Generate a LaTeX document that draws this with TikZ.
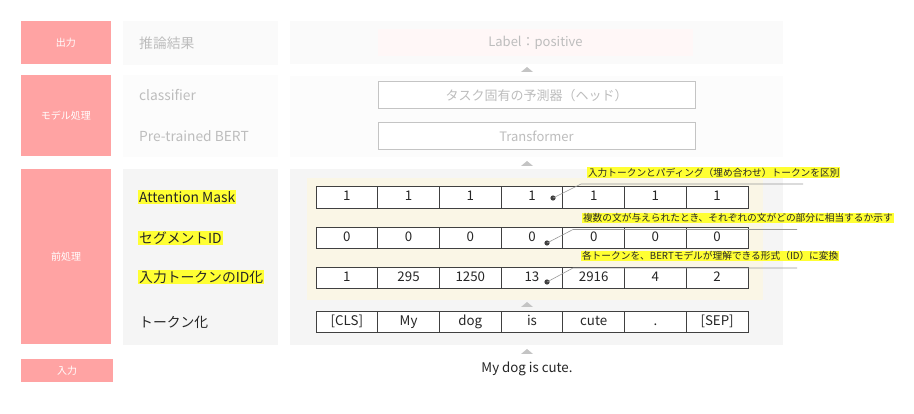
\documentclass[tikz,border=0pt]{standalone}
\usepackage{fontspec}
\setmainfont{Noto Sans CJK JP}
\usepackage{tikz}
\usetikzlibrary{positioning, calc}
\usepackage{xcolor}

\definecolor{tagpink}{HTML}{FFA3A3}
\definecolor{panelgrey}{HTML}{F5F5F5}
\definecolor{panelfaint}{HTML}{FAFAFA}
\definecolor{panelbeige}{HTML}{FAF6E6}
\definecolor{markyellow}{HTML}{FFFF33}
\definecolor{fadetext}{HTML}{BDBDBD}
\definecolor{fadeline}{HTML}{C4C4C4}
\definecolor{celline}{HTML}{404040}

\tikzset{
  tag/.style={fill=tagpink, text=white, font=\fontsize{10}{12}\selectfont},
  stagename/.style={anchor=west, inner sep=1pt, font=\fontsize{13.8}{15}\selectfont},
  marked/.style={stagename, fill=markyellow, text=black!85},
  faded/.style={stagename, text=fadetext},
  fadebox/.style={draw=fadeline, line width=1pt, fill=white, text=fadetext,
    minimum width=317pt, minimum height=27pt, font=\fontsize{13}{15}\selectfont},
  cell/.style={draw=celline, line width=0.9pt, fill=white, minimum width=61.71pt,
    minimum height=21.5pt, inner sep=0pt, text height=9.5pt, text depth=2.5pt,
    text=black!85, font=\fontsize{13.3}{15}\selectfont},
  note/.style={anchor=west, fill=markyellow, inner sep=0.8pt, text=black!85,
    font=\fontsize{9.7}{11}\selectfont},
  callout/.style={draw=gray!80, line width=0.6pt},
  marker/.style={fill=fadeline}
}

\begin{document}
\begin{tikzpicture}[x=1pt, y=-1pt]
  \useasboundingbox[fill=white] (0,0) rectangle (914,414);

  % Stage tags on the left
  \node[tag, minimum width=90pt, minimum height=43pt] (out-tag) at (66,42.5) {出力};
  \node[tag, minimum width=90pt, minimum height=81pt] (model-tag) at (66,115.5) {モデル処理};
  \node[tag, minimum width=90pt, minimum height=175pt] (pre-tag) at (66,256.5) {前処理};
  \node[tag, minimum width=92pt, minimum height=23pt] (in-tag) at (67,370.5) {入力};

  % Background panels
  \fill[panelfaint] (123,21) rectangle (278,65);
  \fill[panelfaint!60!white] (123,75) rectangle (278,157);
  \fill[panelgrey] (123,169) rectangle (278,345);
  \fill[panelfaint] (290,21) rectangle (783,64);
  \fill[panelfaint!60!white] (290,76) rectangle (783,157);
  \fill[panelgrey] (290,169) rectangle (783,345);
  \fill[panelbeige] (307,178) rectangle (763,300);

  % Stage names
  \node[faded] (out-name) at (138,43) {推論結果};
  \node[faded] (cls-name) at (138,95) {classifier};
  \node[faded] (bert-name) at (138,136) {Pre-trained BERT};
  \node[marked] (am-name) at (138,197) {Attention Mask};
  \node[marked] (seg-name) at (138,238) {セグメントID};
  \node[marked] (id-name) at (138,277) {入力トークンのID化};
  \node[stagename, text=black!85] (tok-name) at (138,322) {トークン化};

  % Output and model boxes
  \node[fill=red!3, text=fadetext, minimum width=315pt, minimum height=27pt,
    font=\fontsize{13}{15}\selectfont] (label-box) at (535.5,42.5) {Label：positive};
  \node[fadebox] (head-box) at (536.5,95.5) {タスク固有の予測器（ヘッド）};
  \node[fadebox] (trf-box) at (536.5,136) {Transformer};

  % Token tables
  \foreach \v [count=\i] in {1,1,1,1,1,1,1}
    \node[cell] (am-\i) at ({316+(\i-0.5)*61.71},197.5) {\v};
  \foreach \v [count=\i] in {0,0,0,0,0,0,0}
    \node[cell] (seg-\i) at ({316+(\i-0.5)*61.71},238) {\v};
  \foreach \v [count=\i] in {1,295,1250,13,2916,4,2}
    \node[cell] (id-\i) at ({316+(\i-0.5)*61.71},278) {\v};
  \foreach \v [count=\i] in {[CLS],My,dog,is,cute,.,[SEP]}
    \node[cell] (tok-\i) at ({316+(\i-0.5)*61.71},322) {\v};

  % Input sentence
  \node[text=black!85, font=\fontsize{13.3}{15}\selectfont] (input-text) at (527,369) {My dog is cute.};

  % Flow markers
  \foreach \ty in {72,166,307,354}
    \fill[marker] (521,\ty) -- (527,\ty-5) -- (533,\ty) -- cycle;

  % Callouts
  \coordinate (am-dot) at (553,198);
  \coordinate (am-bend) at (581,184);
  \coordinate (am-end) at (803,184);
  \fill[celline] (am-dot) circle (2.6);
  \draw[callout] (am-dot) -- (am-bend) -- (am-end);
  \node[note] (am-note) at (587,172.5) {入力トークンとパディング（埋め合わせ）トークンを区別};

  \coordinate (seg-dot) at (547,243);
  \coordinate (seg-bend) at (573,229.5);
  \coordinate (seg-end) at (797,229.5);
  \fill[celline] (seg-dot) circle (2.6);
  \draw[callout] (seg-dot) -- (seg-bend) -- (seg-end);
  \node[note] (seg-note) at (582,218) {複数の文が与えられたとき、それぞれの文がどの部分に相当するか示す};

  \coordinate (id-dot) at (547,282);
  \coordinate (id-bend) at (573,268);
  \coordinate (id-end) at (797,268);
  \fill[celline] (id-dot) circle (2.6);
  \draw[callout] (id-dot) -- (id-bend) -- (id-end);
  \node[note] (id-note) at (581,256) {各トークンを、BERTモデルが理解できる形式（ID）に変換};
\end{tikzpicture}
\end{document}
